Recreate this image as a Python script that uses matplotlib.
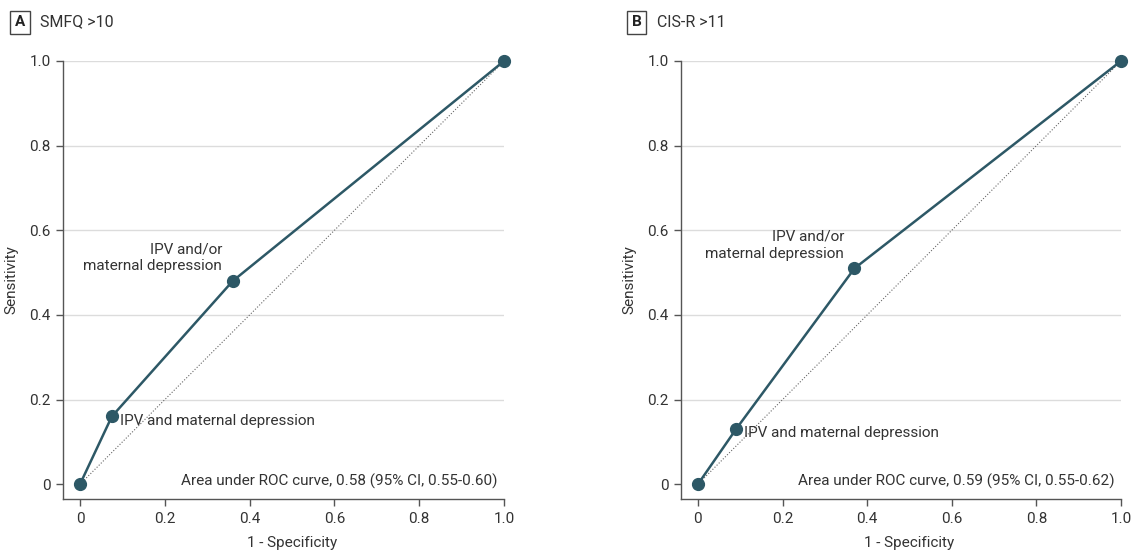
import numpy as np
import matplotlib
matplotlib.use('Agg')
import matplotlib.pyplot as plt

plt.rcParams['font.family'] = ['Roboto', 'DejaVu Sans']

# ROC points (1 - specificity, sensitivity)
fpr_a = [0, 0.075, 0.36, 1.0]
tpr_a = [0, 0.16, 0.48, 1.0]
fpr_b = [0, 0.09, 0.37, 1.0]
tpr_b = [0, 0.13, 0.51, 1.0]

titles = ['SMFQ >10', 'CIS-R >11']
letters = ['A', 'B']
auc_text = ['Area under ROC curve, 0.58 (95% CI, 0.55-0.60)',
            'Area under ROC curve, 0.59 (95% CI, 0.55-0.62)']
ticks = [0, 0.2, 0.4, 0.6, 0.8, 1.0]
tick_labels = ['0', '0.2', '0.4', '0.6', '0.8', '1.0']

col = '#2d5866'
txt = '#333333'
fs = 11

fig = plt.figure(figsize=(11.32, 5.53), dpi=100)
axes = [fig.add_axes([0.0557, 0.0976, 0.3896, 0.7921]),
        fig.add_axes([0.6016, 0.0976, 0.3887, 0.7921])]
label_x = [(0.0177, 0.0353), (0.5627, 0.5804)]

data = [(fpr_a, tpr_a), (fpr_b, tpr_b)]
for i, ax in enumerate(axes):
    x, y = data[i]
    for t in ticks[1:]:
        ax.axhline(t, color='#dcdcdc', lw=1, zorder=0)
    ax.plot([0, 1], [0, 1], ls=':', color='#666666', lw=0.8, zorder=1)
    ax.plot(x, y, color=col, lw=1.8, marker='o', ms=8.5, zorder=3, clip_on=False)
    ax.set_xlim(-0.04, 1.0)
    ax.set_ylim(-0.035, 1.0)
    ax.set_xticks(ticks)
    ax.set_xticklabels(tick_labels)
    ax.set_yticks(ticks)
    ax.set_yticklabels(tick_labels)
    for s in ['top', 'right']:
        ax.spines[s].set_visible(False)
    for s in ['left', 'bottom']:
        ax.spines[s].set_color('#555555')
        ax.spines[s].set_linewidth(1)
    ax.tick_params(length=5, width=1, color='#555555', labelsize=fs, labelcolor=txt, pad=4)
    ax.set_xlabel('1 - Specificity', fontsize=fs, color=txt)
    ax.set_ylabel('Sensitivity', fontsize=fs, color=txt)
    ax.xaxis.set_label_coords(0.519, -0.085)
    ax.yaxis.set_label_coords(-0.102, 0.5)

    # annotations
    ax.text(x[2] - 0.025, y[2] + 0.055, 'IPV and/or\nmaternal depression',
            ha='right', va='center', multialignment='right', fontsize=fs, color=txt,
            linespacing=1.3)
    ax.text(x[1] + 0.02, y[1] - 0.01, 'IPV and maternal depression',
            ha='left', va='center', fontsize=fs, color=txt)
    ax.text(0.985, 0.007, auc_text[i], ha='right', va='center', fontsize=fs, color=txt)

    # panel label
    bx, tx = label_x[i]
    fig.text(bx, 0.960, letters[i], fontsize=fs, fontweight='bold', color='#222222',
             ha='center', va='center',
             bbox=dict(boxstyle='square,pad=0.3', fc='white', ec='#444444', lw=1))
    fig.text(tx, 0.960, titles[i], fontsize=fs + 0.5, color=txt, ha='left', va='center')

fig.savefig('out.png', dpi=100)
